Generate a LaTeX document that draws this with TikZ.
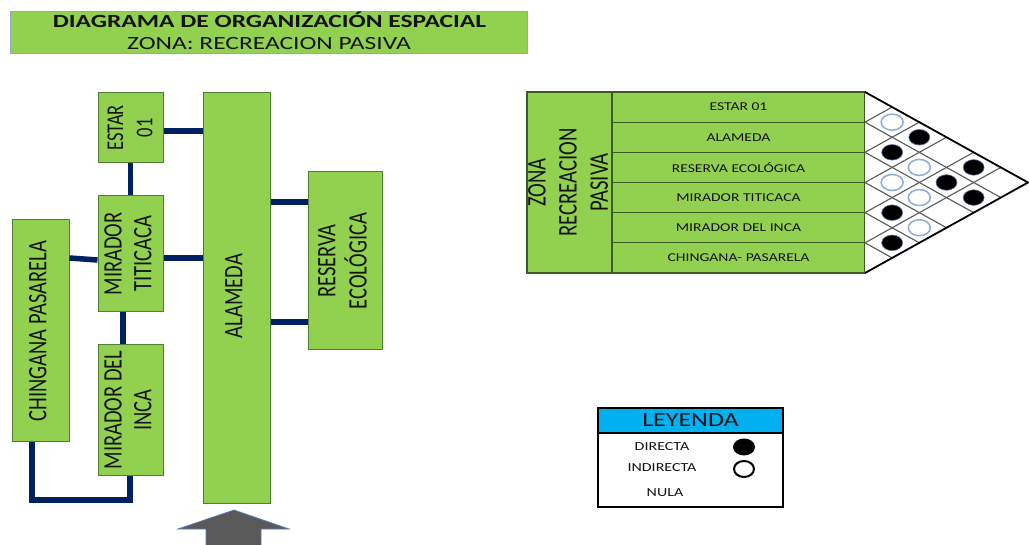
\documentclass[tikz,border=0pt]{standalone}
\usepackage{graphicx}
\usepackage{fontspec}
\setmainfont{Carlito}
\usetikzlibrary{calc}
\definecolor{boxgreen}{HTML}{92D050}
\definecolor{boxedge}{HTML}{507E32}
\definecolor{rowedge}{HTML}{3D5A24}
\definecolor{navy}{HTML}{002060}
\definecolor{titleedge}{HTML}{8EA9C8}
\definecolor{legblue}{HTML}{00B0F0}
\definecolor{emptyring}{HTML}{8FAADC}
\definecolor{arrowgray}{HTML}{595959}
\definecolor{arrowedge}{HTML}{5B7DB8}
\definecolor{txt}{HTML}{141414}
\newcommand{\hs}[1]{\scalebox{1.3}[1]{#1}}
\newcommand{\ths}[1]{\scalebox{1.37}[1]{#1}}
\newcommand{\vtxt}[1]{\rotatebox{90}{\scalebox{1}[1.3]{\begin{tabular}{@{}c@{}}#1\end{tabular}}}}
\tikzset{
  gbox/.style={draw=boxedge, fill=boxgreen, line width=1pt, inner sep=0pt},
  lbl/.style={inner sep=0pt, text=txt, font=\fontsize{20.5}{23}\selectfont},
  conn/.style={draw=navy, line width=5.5pt, line join=miter},
  rowbox/.style={draw=rowedge, fill=boxgreen, line width=1.3pt, inner sep=0pt,
    minimum width=253pt, minimum height=30.167pt, text=txt, font=\fontsize{12}{14}\selectfont},
  gridline/.style={draw=black!65, line width=1.1pt},
  fullc/.style={fill=black, draw=navy!60, line width=0.6pt},
  emptyc/.style={fill=white, draw=emptyring, line width=1.5pt},
  legtxt/.style={inner sep=0pt, text=txt, font=\fontsize{12.3}{14}\selectfont}
}
\begin{document}
\begin{tikzpicture}[x=1pt,y=-1pt]
\useasboundingbox (0,0) rectangle (1029,545);
\fill[white] (0,0) rectangle (1029,545);

% title
\node[draw=titleedge, fill=boxgreen, line width=1pt, minimum width=517pt, minimum height=42pt, inner sep=0pt] (title) at (268.5,33) {};
\node[anchor=base, inner sep=0pt, text=txt, font=\fontsize{18.6}{22}\selectfont\bfseries] (t1) at (269.5,27.7) {\ths{DIAGRAMA DE ORGANIZACIÓN ESPACIAL}};
\node[anchor=base, inner sep=0pt, text=txt, font=\fontsize{18.6}{22}\selectfont] (t2) at (269,50) {\ths{ZONA: RECREACION PASIVA}};

% left diagram boxes
\node[gbox, minimum width=65pt, minimum height=70pt] (estar) at (130.5,128) {};
\node[gbox, minimum width=67pt, minimum height=410pt] (alameda) at (236.5,298) {};
\node[gbox, minimum width=65pt, minimum height=116pt] (tit) at (130.5,254) {};
\node[gbox, minimum width=57pt, minimum height=222pt] (chin) at (40.5,331) {};
\node[gbox, minimum width=65pt, minimum height=130pt] (inca) at (130.5,410) {};
\node[gbox, minimum width=74pt, minimum height=178pt] (reserva) at (345,261) {};

\node[lbl, font=\fontsize{18.5}{22.5}\selectfont] at ($(estar)+(1.5,0)$) {\vtxt{ESTAR\\01}};
\node[lbl] at ($(alameda)+(0,-2)$) {\vtxt{ALAMEDA}};
\node[lbl] at (tit) {\vtxt{MIRADOR\\TITICACA}};
\node[lbl] at (chin) {\vtxt{CHINGANA PASARELA}};
\node[lbl] at (inca) {\vtxt{MIRADOR DEL\\INCA}};
\node[lbl] at (reserva) {\vtxt{RESERVA\\ECOLÓGICA}};

% connectors
\draw[conn] (estar.east |- 0,131) -- (alameda.west |- 0,131);
\draw[conn] (estar.south) -- (tit.north);
\draw[conn] (tit.east |- 0,258) -- (alameda.west |- 0,258);
\draw[conn] (chin.east |- 0,258) -- (tit.west |- 0,260);
\draw[conn] (tit.south -| 123,0) -- (inca.north -| 123,0);
\draw[conn] (alameda.east |- 0,202) -- (reserva.west |- 0,202);
\draw[conn] (alameda.east |- 0,322) -- (reserva.west |- 0,322);
\coordinate (c1) at (32,500);
\coordinate (c2) at (130,500);
\draw[conn] (chin.south -| c1) -- (c1) -- (c2) -- (inca.south -| c2);

% entrance arrow
\draw[fill=arrowgray, draw=arrowedge, line width=0.8pt, line join=miter]
  (206,550) -- (206,529) -- (178,529) -- (234,510) -- (289,529) -- (261,529) -- (261,550);

% matrix
\node[rowbox, minimum width=85pt, minimum height=181pt, line width=1.6pt] (zona) at (569.5,182.5) {};
\node[lbl, font=\fontsize{20.7}{24}\selectfont] at ($(zona)+(1,0)$) {\vtxt{ZONA\\RECREACION\\PASIVA}};
\node[rowbox] (r0) at (738.5,107.083) {\hs{ESTAR 01}};
\node[rowbox] (r1) at (738.5,137.25) {\hs{ALAMEDA}};
\node[rowbox] (r2) at (738.5,167.417) {\hs{RESERVA ECOLÓGICA}};
\node[rowbox] (r3) at (738.5,197.583) {\hs{MIRADOR TITICACA}};
\node[rowbox] (r4) at (738.5,227.75) {\hs{MIRADOR DEL INCA}};
\node[rowbox] (r5) at (738.5,257.917) {\hs{CHINGANA- PASARELA}};

\coordinate (T) at (865,92);
\coordinate (B) at (865,273);
\coordinate (P) at (1028,182.5);
\fill[white] (T) -- (P) -- (B) -- cycle;
\foreach \k in {1,...,5}{
  \draw[gridline] ($(T)!{\k/6}!(B)$) -- ($(B)!{(6-\k)/6}!(P)$);
  \draw[gridline] ($(T)!{\k/6}!(B)$) -- ($(T)!{\k/6}!(P)$);
}
\draw[black, line width=1.8pt, line join=miter] (T) -- (P) -- (B);

\foreach \i/\j in {0/1,1/3,2/3,2/4,3/5}{
  \path[emptyc] ({865+27.167*(\j-\i)},{92+((\i+\j)/2+0.5)*30.167}) ellipse (11 and 8);
}
\foreach \i/\j in {0/2,1/2,0/4,1/4,1/5,3/4,4/5}{
  \path[fullc] ({865+27.167*(\j-\i)},{92+((\i+\j)/2+0.5)*30.167}) ellipse (10.5 and 7.8);
}

% legend
\node[draw=black, line width=1.4pt, fill=white, minimum width=185pt, minimum height=99pt, inner sep=0pt] (leg) at (690.5,457.5) {};
\node[draw=black, line width=1.4pt, fill=legblue, minimum width=185pt, minimum height=25pt, inner sep=0pt, text=txt, font=\fontsize{20}{22}\selectfont] (leghead) at (690.5,420.5) {\hs{LEYENDA}};
\node[legtxt] (ld) at (662,447) {\hs{DIRECTA}};
\node[legtxt] (li) at (662,468) {\hs{INDIRECTA}};
\node[legtxt] (ln) at (665,493) {\hs{NULA}};
\fill[black] (744,447) ellipse (11 and 8.5);
\draw[black, line width=2pt, fill=white] (744,469) ellipse (10 and 8);
\end{tikzpicture}
\end{document}
